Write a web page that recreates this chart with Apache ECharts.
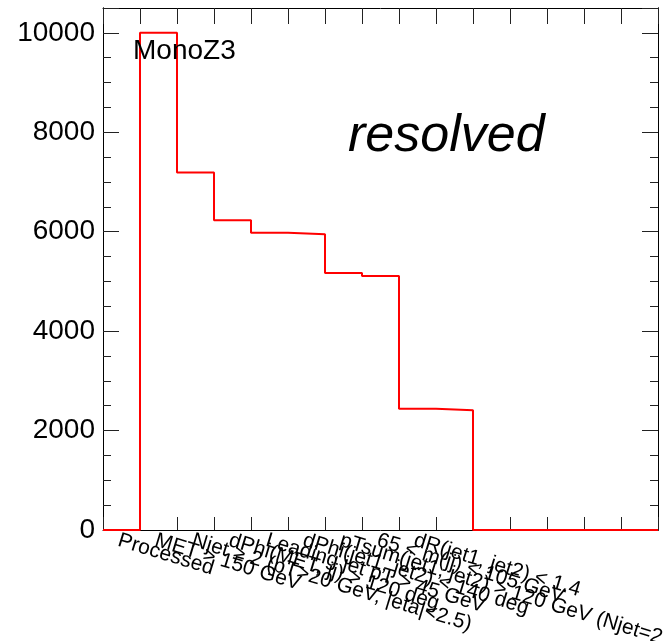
<!DOCTYPE html>
<html>
<head>
<meta charset="utf-8">
<script src="https://cdn.jsdelivr.net/npm/echarts@6/dist/echarts.min.js"></script>
<style>
  html, body { margin: 0; padding: 0; background: #fff; }
  #chart { width: 664px; height: 641px; }
</style>
</head>
<body>
<div id="chart"></div>
<script>
// Cut-flow bin labels (one per histogram bin)
const binLabels = [
  "Processed",
  "MET > 150 GeV",
  "Njet ≥ 2 (pT>20 GeV, |eta|<2.5)",
  "dPhi(MET, jj) > 120 deg",
  "Leading jet pT > 45 GeV",
  "dPhi(jet1, jet2) < 140 deg",
  "pTsum(jet1, jet2) > 120 GeV (Njet=2)",
  "65 < m(jj) < 105 GeV",
  "dR(jet1, jet2) < 1.4",
  "", "", "", "", "", ""
];

// Events surviving each cut
const cutCounts = [0, 10000, 7190, 6230, 5980, 5950, 5170, 5110, 2440, 2410, 0, 0, 0, 0, 0];

// Y axis range and tick spacing
const yMax = 10500;
const yMajorStep = 2000;
const yMinorStep = 500;

const FONT = '"Liberation Sans", Arial, Helvetica, sans-serif';

// Histogram outline: each bin spans [i, i+1] on the hidden numeric axis
const stepData = cutCounts.map((v, i) => [i, v]);
stepData.push([cutCounts.length, cutCounts[cutCounts.length - 1]]);

const frameLine = { show: true, onZero: false, lineStyle: { color: '#000', width: 1 } };
const tickStyle = { color: '#222', width: 1 };

function yAxisDef(position, step, tickLen, withLabels) {
  return {
    type: 'value',
    position: position,
    offset: 0,
    min: 0,
    max: yMax,
    interval: step,
    axisLine: frameLine,
    axisTick: { show: true, inside: true, length: tickLen, lineStyle: tickStyle },
    splitLine: { show: false },
    axisLabel: withLabels ? {
      show: true,
      margin: 8,
      fontSize: 28,
      fontFamily: FONT,
      color: '#000',
      formatter: v => (v % yMajorStep === 0 ? String(v) : '')
    } : { show: false }
  };
}

const chart = echarts.init(document.getElementById('chart'), null, { renderer: 'canvas' });

chart.setOption({
  animation: false,
  backgroundColor: '#fff',
  grid: { left: 103, right: 6, top: 8, bottom: 111, containLabel: false, outerBoundsMode: 'none' },
  xAxis: [
    {
      type: 'category',
      position: 'bottom',
      offset: 0,
      data: binLabels,
      boundaryGap: true,
      axisLine: frameLine,
      axisTick: { show: true, inside: true, length: 13, interval: 0, lineStyle: tickStyle },
      axisLabel: {
        show: true,
        interval: 0,
        rotate: -17,
        align: 'left',
        verticalAlign: 'top',
        margin: 0,
        fontSize: 21,
        fontFamily: FONT,
        color: '#000'
      },
      splitLine: { show: false }
    },
    {
      type: 'category',
      position: 'top',
      offset: 0,
      data: binLabels,
      boundaryGap: true,
      axisLine: frameLine,
      axisTick: { show: true, inside: true, length: 16, interval: 0, lineStyle: tickStyle },
      axisLabel: { show: false },
      splitLine: { show: false }
    },
    {
      type: 'value',
      position: 'bottom',
      offset: 0,
      min: 0,
      max: binLabels.length,
      show: false
    }
  ],
  yAxis: [
    yAxisDef('left', yMajorStep, 16, true),
    yAxisDef('left', yMinorStep, 8, false),
    yAxisDef('right', yMajorStep, 16, false),
    yAxisDef('right', yMinorStep, 8, false)
  ],
  series: [
    {
      type: 'line',
      xAxisIndex: 2,
      yAxisIndex: 0,
      step: 'end',
      data: stepData,
      symbol: 'none',
      z: 10,
      lineStyle: { color: '#ff0000', width: 2 }
    }
  ],
  graphic: [
    {
      type: 'text',
      z: 20,
      style: {
        text: 'MonoZ3',
        x: 133,
        y: 51,
        verticalAlign: 'middle',
        align: 'left',
        font: '28px ' + FONT,
        fill: '#000'
      }
    },
    {
      type: 'text',
      z: 20,
      style: {
        text: 'resolved',
        x: 348,
        y: 137,
        verticalAlign: 'middle',
        align: 'left',
        font: 'italic 52px ' + FONT,
        fill: '#000'
      }
    }
  ]
});
</script>
</body>
</html>
